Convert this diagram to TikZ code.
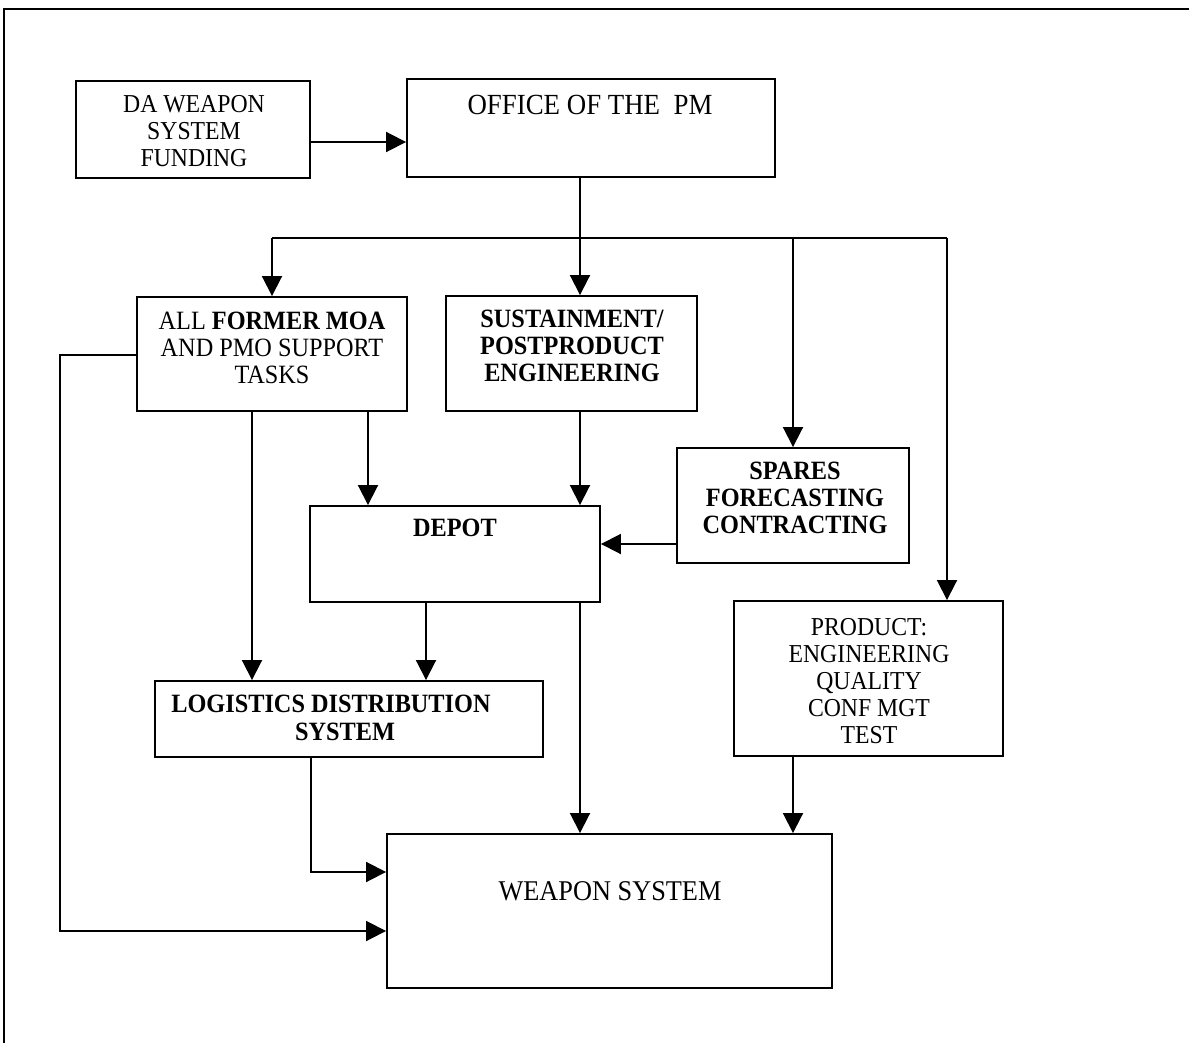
\documentclass[tikz,border=0pt]{standalone}
\usepackage{fontspec}
\setmainfont{Liberation Serif}[FakeStretch=0.92]
\usetikzlibrary{arrows.meta,fit}
\newcommand{\fsz}[1]{\fontsize{#1}{13.6}\selectfont}
\begin{document}
\begin{tikzpicture}[x=0.5pt,y=-0.5pt,
  box/.style={draw,line width=0.95pt,inner sep=0pt},
  lbl/.style={align=center,font=\fsz{13},inner sep=0pt},
  bl/.style={align=center,font=\fsz{13.2}\bfseries,inner sep=0pt},
  conn/.style={line width=0.95pt},
  arr/.style={conn,-{Triangle[length=10pt,width=10pt]}}]
\useasboundingbox (0,0) rectangle (1189,1043);
\draw[line width=1pt] (4,1043) -- (4,9) -- (1189,9);

% boxes
\node[box,fit={(76,81)(310,178)}] (da) {};
\node[lbl,font=\fsz{12.9}] (dat) at (194,131) {DA WEAPON\\SYSTEM\\FUNDING};
\node[box,fit={(407,79)(775,177)}] (office) {};
\node[lbl,font=\fsz{14.6}] (officet) at (590,105) {OFFICE OF THE\ \ PM};
\node[box,fit={(137,297)(407,411)}] (all) {};
\node[lbl,font=\fsz{13.2}] (allt) at (272,348) {ALL \textbf{FORMER MOA}\\AND PMO SUPPORT\\TASKS};
\node[box,fit={(446,296)(697,411)}] (sust) {};
\node[bl] (sustt) at (572,346) {SUSTAINMENT/\\POSTPRODUCT\\ENGINEERING};
\node[box,fit={(677,448)(909,563)}] (spares) {};
\node[bl] (sparest) at (795,498) {SPARES\\FORECASTING\\CONTRACTING};
\node[box,fit={(310,506)(600,602)}] (depot) {};
\node[bl] (depott) at (455,528) {DEPOT};
\node[box,fit={(734,601)(1003,756)}] (product) {};
\node[lbl,font=\fsz{12.9}] (productt) at (869,681) {PRODUCT:\\ENGINEERING\\QUALITY\\CONF MGT\\TEST};
\node[box,fit={(155,681)(543,757)}] (logi) {};
\node[bl] (logit1) at (331,704) {LOGISTICS DISTRIBUTION};
\node[bl] (logit2) at (345,732) {SYSTEM};
\node[box,fit={(387,834)(832,988)}] (weapon) {};
\node[lbl,font=\fsz{14.3}] (weapont) at (610,891) {WEAPON SYSTEM};

% helper coordinates
\coordinate (bl) at (272,238);
\coordinate (br) at (947,238);
\coordinate (yb) at (0,238);
\coordinate (xa) at (252,0);
\coordinate (xb) at (368,0);
\coordinate (xc) at (580,0);
\coordinate (xd) at (426,0);
\coordinate (xs) at (793,0);
\coordinate (xl) at (311,0);
\coordinate (xw) at (60,0);
\coordinate (y1) at (0,142);
\coordinate (y2) at (0,544);
\coordinate (y3) at (0,872);
\coordinate (y4) at (0,931);
\coordinate (y5) at (0,355);

% connectors
\draw[arr] (da.east |- y1) -- (office.west |- y1);
\draw[conn] (office.south -| xc) -- (yb -| xc);
\draw[conn] (bl) -- (br);
\draw[arr] (bl) -- (all.north -| bl);
\draw[arr] (yb -| xc) -- (sust.north -| xc);
\draw[arr] (yb -| xs) -- (spares.north -| xs);
\draw[arr] (br) -- (product.north -| br);
\draw[arr] (all.south -| xa) -- (logi.north -| xa);
\draw[arr] (all.south -| xb) -- (depot.north -| xb);
\draw[arr] (sust.south -| xc) -- (depot.north -| xc);
\draw[arr] (spares.west |- y2) -- (depot.east |- y2);
\draw[arr] (depot.south -| xd) -- (logi.north -| xd);
\draw[arr] (depot.south -| xc) -- (weapon.north -| xc);
\draw[arr] (product.south -| xs) -- (weapon.north -| xs);
\draw[arr] (logi.south -| xl) |- (weapon.west |- y3);
\draw[arr] (all.west |- y5) -- (xw |- y5) -- (xw |- y4) -- (weapon.west |- y4);
\end{tikzpicture}
\end{document}
